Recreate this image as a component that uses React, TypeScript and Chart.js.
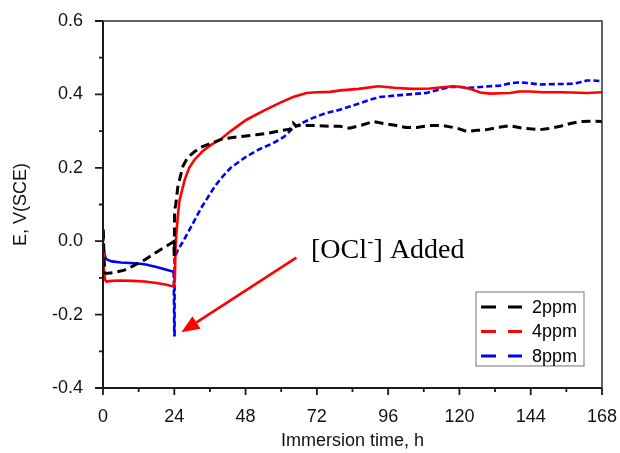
import React, { useEffect, useRef } from "react";
import { Chart, registerables } from "chart.js";

Chart.register(...registerables);

// ---- data ----
const seriesNames = ["2ppm", "4ppm", "8ppm"];
const seriesColors = ["#000000", "#ff0000", "#0000ff"];

const hours2 = [0, 0.1, 0.3, 0.6, 1.1, 4, 7.2, 10, 14, 18, 21, 23.8, 24, 24.1, 24.5, 25.2, 26.9, 28.5, 30.8, 33, 36.5, 40, 45, 51.6, 56, 61.8, 63, 64, 65, 66.3, 72, 76.4, 79.7, 83, 87, 91, 95, 98.9, 102, 105.6, 110, 114.6, 119.1, 122.5, 126, 129.2, 133, 137, 141, 147.2, 150, 153.9, 157, 160.7, 164, 168];
const e2 = [0.0, 0.035, -0.04, -0.085, -0.088, -0.085, -0.079, -0.068, -0.051, -0.03, -0.015, -0.001, -0.04, 0.085, 0.1, 0.149, 0.204, 0.228, 0.244, 0.256, 0.267, 0.278, 0.284, 0.29, 0.295, 0.304, 0.305, 0.322, 0.314, 0.315, 0.315, 0.313, 0.313, 0.308, 0.316, 0.326, 0.32, 0.315, 0.31, 0.31, 0.315, 0.315, 0.308, 0.299, 0.302, 0.304, 0.31, 0.315, 0.308, 0.304, 0.307, 0.313, 0.32, 0.326, 0.327, 0.326];

const hours4 = [0, 0.3, 0.7, 1.1, 3, 6, 10, 14, 18, 21, 23.9, 24.2, 24.4, 24.7, 25.2, 25.8, 27.5, 29, 30.8, 33.5, 36.5, 39.3, 43, 48.3, 54, 59.5, 64, 68.5, 72, 76.4, 80, 86, 92.7, 98, 104, 110, 117.8, 121, 123.6, 127, 130.3, 134, 137, 140, 143.8, 148, 153.9, 158, 163, 168];
const e4 = [-0.03, -0.08, -0.105, -0.11, -0.108, -0.107, -0.108, -0.11, -0.114, -0.118, -0.124, -0.1, -0.02, 0.02, 0.07, 0.113, 0.167, 0.2, 0.222, 0.245, 0.263, 0.276, 0.3, 0.331, 0.355, 0.377, 0.393, 0.404, 0.406, 0.407, 0.411, 0.415, 0.422, 0.418, 0.415, 0.416, 0.422, 0.42, 0.415, 0.405, 0.402, 0.403, 0.404, 0.408, 0.408, 0.406, 0.406, 0.405, 0.404, 0.406];

const hours8 = [0, 0.4, 0.9, 1.6, 3, 6, 10.6, 14, 18, 21, 23.8, 24.0, 24.1, 25.2, 27, 29.7, 33, 37.6, 39.8, 43, 48.3, 53, 57.3, 61, 64, 67, 70.7, 75, 79.7, 85, 90, 93.2, 100, 109, 113, 116.8, 120, 123.6, 128, 133.7, 137, 140.4, 144, 147.2, 152, 158.4, 161, 163, 165, 168];
const e8 = [-0.005, -0.03, -0.047, -0.051, -0.055, -0.058, -0.06, -0.063, -0.07, -0.077, -0.083, -0.256, -0.045, -0.024, 0.0, 0.04, 0.09, 0.149, 0.172, 0.2, 0.231, 0.252, 0.267, 0.285, 0.308, 0.322, 0.336, 0.349, 0.358, 0.372, 0.386, 0.393, 0.398, 0.404, 0.413, 0.42, 0.42, 0.418, 0.421, 0.424, 0.43, 0.433, 0.43, 0.427, 0.428, 0.429, 0.434, 0.438, 0.438, 0.436];

const X_MIN = 0;
const X_MAX = 168;
const X_STEP = 24;
const Y_MIN = -0.4;
const Y_MAX = 0.6;
const Y_STEP = 0.2;

const xTitle = "Immersion time, h";
const yTitle = "E, V(SCE)";
const ADDITION_HOUR = 24;

// annotation anchors in data units
const labelAt = { h: 70, e: -0.046 };
const arrowFrom = { h: 65.1, e: -0.045 };
const arrowTo = { h: 26.4, e: -0.248 };

const SANS = "'Liberation Sans', Arial, sans-serif";
const SERIF = "'Liberation Serif', 'Times New Roman', serif";

function toPoints(xs: number[], ys: number[]) {
  return xs.map((x, i) => ({ x, y: ys[i] }));
}

const framePlugin = {
  id: "frameAndTicks",
  afterDraw(chart: any) {
    const { ctx, chartArea } = chart;
    const { left, right, top, bottom } = chartArea;
    const xs = chart.scales.x;
    const ys = chart.scales.y;
    ctx.save();
    // frame top/right
    ctx.strokeStyle = "#333";
    ctx.lineWidth = 1.5;
    ctx.beginPath();
    ctx.moveTo(left, top);
    ctx.lineTo(right, top);
    ctx.lineTo(right, bottom);
    ctx.stroke();
    // axes
    ctx.strokeStyle = "#1a1a1a";
    ctx.lineWidth = 2;
    ctx.beginPath();
    ctx.moveTo(left, top);
    ctx.lineTo(left, bottom);
    ctx.lineTo(right, bottom);
    ctx.stroke();
    // ticks
    ctx.lineWidth = 1.8;
    ctx.beginPath();
    const yv = ys.ticks.map((t: any) => t.value);
    yv.forEach((v: number, i: number) => {
      const py = ys.getPixelForValue(v);
      ctx.moveTo(left - 8, py);
      ctx.lineTo(left, py);
      if (i < yv.length - 1) {
        const pm = ys.getPixelForValue((v + yv[i + 1]) / 2);
        ctx.moveTo(left - 4, pm);
        ctx.lineTo(left, pm);
      }
    });
    const xv = xs.ticks.map((t: any) => t.value);
    xv.forEach((v: number, i: number) => {
      const px = xs.getPixelForValue(v);
      ctx.moveTo(px, bottom);
      ctx.lineTo(px, bottom + 7);
      if (i < xv.length - 1) {
        const pm = xs.getPixelForValue((v + xv[i + 1]) / 2);
        ctx.moveTo(pm, bottom);
        ctx.lineTo(pm, bottom + 4);
      }
    });
    ctx.stroke();

    // annotation: text
    const tx = xs.getPixelForValue(labelAt.h);
    const ty = ys.getPixelForValue(labelAt.e);
    ctx.fillStyle = "#000";
    ctx.textBaseline = "alphabetic";
    ctx.textAlign = "left";
    ctx.font = `28px ${SERIF}`;
    const p1 = "[OCl";
    ctx.fillText(p1, tx, ty);
    let cx = tx + ctx.measureText(p1).width;
    ctx.font = `17px ${SERIF}`;
    ctx.fillText("-", cx + 0.5, ty - 11);
    cx += ctx.measureText("-").width + 1;
    ctx.font = `28px ${SERIF}`;
    ctx.fillText("] Added", cx, ty);

    // arrow
    const ax0 = xs.getPixelForValue(arrowFrom.h);
    const ay0 = ys.getPixelForValue(arrowFrom.e);
    const ax1 = xs.getPixelForValue(arrowTo.h);
    const ay1 = ys.getPixelForValue(arrowTo.e);
    const ang = Math.atan2(ay1 - ay0, ax1 - ax0);
    const headLen = 18;
    const headHalf = 7.5;
    const bx = ax1 - headLen * Math.cos(ang);
    const by = ay1 - headLen * Math.sin(ang);
    ctx.strokeStyle = "#ff0000";
    ctx.fillStyle = "#ff0000";
    ctx.lineWidth = 2.6;
    ctx.beginPath();
    ctx.moveTo(ax0, ay0);
    ctx.lineTo(bx, by);
    ctx.stroke();
    ctx.beginPath();
    ctx.moveTo(ax1, ay1);
    ctx.lineTo(bx + headHalf * Math.sin(ang), by - headHalf * Math.cos(ang));
    ctx.lineTo(bx - headHalf * Math.sin(ang), by + headHalf * Math.cos(ang));
    ctx.closePath();
    ctx.fill();

    // legend
    const lw = 108;
    const lh = 74;
    const lx = right - 18 - lw;
    const ly = bottom - 22 - lh;
    ctx.fillStyle = "#fff";
    ctx.fillRect(lx, ly, lw, lh);
    ctx.strokeStyle = "#8a8a8a";
    ctx.lineWidth = 1.2;
    ctx.strokeRect(lx, ly, lw, lh);
    ctx.font = `18px ${SANS}`;
    ctx.textBaseline = "middle";
    seriesNames.forEach((name, i) => {
      const yy = ly + 15 + i * 24.5;
      ctx.strokeStyle = seriesColors[i];
      ctx.lineWidth = 3;
      ctx.setLineDash([15, 12]);
      ctx.beginPath();
      ctx.moveTo(lx + 5, yy);
      ctx.lineTo(lx + 46, yy);
      ctx.stroke();
      ctx.setLineDash([]);
      ctx.fillStyle = "#000";
      ctx.fillText(name, lx + 56, yy + 1);
    });
    ctx.restore();
  },
};

export default function App() {
  const ref = useRef<HTMLCanvasElement | null>(null);
  useEffect(() => {
    if (!ref.current) return;
    const chart = new Chart(ref.current, {
      type: "line",
      data: {
        datasets: [
          {
            label: seriesNames[0],
            data: toPoints(hours2, e2),
            borderColor: seriesColors[0],
            borderWidth: 3,
            borderDash: [9, 5],
            pointRadius: 0,
            tension: 0,
          },
          {
            label: seriesNames[1],
            data: toPoints(hours4, e4),
            borderColor: seriesColors[1],
            borderWidth: 2.6,
            pointRadius: 0,
            tension: 0,
          },
          {
            label: seriesNames[2],
            data: toPoints(hours8, e8),
            borderColor: seriesColors[2],
            borderWidth: 2.6,
            pointRadius: 0,
            tension: 0,
            segment: {
              borderDash: (c: any) => (c.p0.parsed.x >= ADDITION_HOUR - 0.3 ? [6, 3] : undefined),
            },
          },
        ],
      },
      options: {
        responsive: false,
        animation: false,
        parsing: true,
        layout: { padding: { top: 21, right: 18, left: 0, bottom: 0 } },
        plugins: { legend: { display: false }, tooltip: { enabled: false } },
        scales: {
          x: {
            type: "linear",
            min: X_MIN,
            max: X_MAX,
            grid: { display: false },
            border: { display: false },
            ticks: {
              stepSize: X_STEP,
              padding: 10,
              color: "#111",
              font: { family: SANS, size: 18 },
              maxRotation: 0,
            },
            title: {
              display: true,
              text: xTitle,
              color: "#111",
              font: { family: SANS, size: 18 },
              padding: { top: 0, bottom: 1 },
            },
            afterFit: (s: any) => {
              s.height = 65;
              s.paddingLeft = 0;
              s.paddingRight = 0;
            },
          },
          y: {
            type: "linear",
            min: Y_MIN,
            max: Y_MAX,
            grid: { display: false },
            border: { display: false },
            ticks: {
              stepSize: Y_STEP,
              padding: 12,
              color: "#111",
              font: { family: SANS, size: 18 },
              callback: (v: any) => {
                const n = Math.abs(Number(v)) < 1e-9 ? 0 : Number(v);
                return n.toFixed(1);
              },
            },
            title: {
              display: true,
              text: yTitle,
              color: "#111",
              font: { family: SANS, size: 18 },
              padding: { top: 10, bottom: 0 },
            },
            afterFit: (s: any) => {
              s.width = 103;
              s.paddingTop = 0;
              s.paddingBottom = 0;
            },
          },
        },
      },
      plugins: [framePlugin],
    } as any);
    return () => chart.destroy();
  }, []);
  return (
    <div style={{ position: "absolute", left: 0, top: 0, width: 620, height: 453, background: "#fff" }}>
      <canvas ref={ref} width={620} height={453} style={{ display: "block" }} />
    </div>
  );
}
